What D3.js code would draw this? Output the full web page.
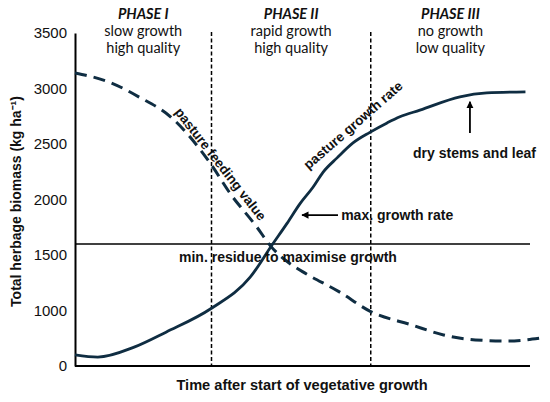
<!DOCTYPE html>
<html>
<head>
<meta charset="utf-8">
<script src="https://cdn.jsdelivr.net/npm/d3@7"></script>
<style>
	body { margin: 0; background: #fff; }
	svg { display: block; }
</style>
</head>
<body>
<svg id="chart" width="550" height="402"></svg>
<script>
// time after start (arbitrary units 0..100) and herbage biomass (kg/ha)
var growthTime = [0, 5, 13, 20, 30, 38.5, 43.3, 46.6, 49.5, 52.3, 54.5, 57.6, 61.1, 64.8, 68.6, 71.4, 75.8, 84.6, 90.5, 99];
var growthValue = [600, 580, 670, 805, 1020, 1300, 1590, 1785, 1965, 2110, 2245, 2375, 2510, 2605, 2690, 2745, 2805, 2925, 2960, 2970];

var feedingTime = [0, 8, 14, 21, 30, 34, 40, 43, 47, 50, 58, 65, 74, 81, 88, 95, 102];
var feedingValue = [3140, 3050, 2925, 2745, 2310, 2060, 1750, 1580, 1430, 1350, 1170, 990, 870, 780, 735, 725, 750];

// axis (the bottom label "0" sits where 500 would be)
var yTickValues = [500, 1000, 1500, 2000, 2500, 3000, 3500];
var yTickLabels = ["0", "1000", "1500", "2000", "2500", "3000", "3500"];

var phaseBounds = [0, 30, 65, 100];
var phaseNames = ["PHASE I", "PHASE II", "PHASE III"];
var phaseGrowth = ["slow growth", "rapid growth", "no growth"];
var phaseQuality = ["high quality", "high quality", "low quality"];

var minResidue = 1600;

var svg = d3.select("#chart");
var lineColor = "#0f2d42";

var x = d3.scaleLinear().domain([0, 100]).range([75, 530]);
var y = d3.scaleLinear().domain([500, 3500]).range([366, 33]);

// y axis
var yAxis = d3.axisLeft(y)
	.tickValues(yTickValues)
	.tickSize(0)
	.tickPadding(8)
	.tickFormat(function(d, i) {return yTickLabels[i];});

var gy = svg.append("g")
	.attr("transform", "translate(" + x(0) + ",0)")
	.call(yAxis);
gy.select(".domain").attr("stroke", "#000").attr("stroke-width", 2);
gy.selectAll("text")
	.attr("font-family", "Liberation Sans, Arial, sans-serif")
	.attr("font-size", 15)
	.attr("fill", "#111");

// x axis line (no ticks)
svg.append("line")
	.attr("x1", x(0)).attr("x2", x(100))
	.attr("y1", y(500)).attr("y2", y(500))
	.attr("stroke", "#000").attr("stroke-width", 2);

// min residue line
svg.append("line")
	.attr("x1", x(0)).attr("x2", x(100))
	.attr("y1", y(minResidue)).attr("y2", y(minResidue))
	.attr("stroke", "#000").attr("stroke-width", 1.5);

// phase boundaries
svg.selectAll(".phase-line")
	.data(phaseBounds.slice(1, 3))
	.enter()
	.append("line")
	.attr("class", "phase-line")
	.attr("x1", function(d) {return x(d);})
	.attr("x2", function(d) {return x(d);})
	.attr("y1", y(3510))
	.attr("y2", y(500))
	.attr("stroke", "#000")
	.attr("stroke-width", 1.5)
	.attr("stroke-dasharray", "4,2.5");

// phase headings
var phase = svg.selectAll(".phase")
	.data(phaseNames)
	.enter()
	.append("g")
	.attr("class", "phase")
	.attr("transform", function(d, i) {
		return "translate(" + x((phaseBounds[i] + phaseBounds[i + 1]) / 2) + ",0)";
	})
	.attr("font-family", "Lato, 'Open Sans', sans-serif")
	.attr("font-size", 14.5)
	.attr("text-anchor", "middle")
	.attr("fill", "#111");

phase.append("text")
	.attr("y", 19)
	.attr("font-weight", "bold")
	.attr("font-style", "italic")
	.text(function(d) {return d;});
phase.append("text")
	.attr("y", 36)
	.text(function(d, i) {return phaseGrowth[i];});
phase.append("text")
	.attr("y", 53)
	.text(function(d, i) {return phaseQuality[i];});

// curves
var line = d3.line()
	.x(function(d) {return x(d[0]);})
	.y(function(d) {return y(d[1]);})
	.curve(d3.curveMonotoneX);

svg.append("path")
	.datum(d3.zip(feedingTime, feedingValue))
	.attr("d", line)
	.attr("fill", "none")
	.attr("stroke", lineColor)
	.attr("stroke-width", 3)
	.attr("stroke-dasharray", "12,7");

svg.append("path")
	.datum(d3.zip(growthTime, growthValue))
	.attr("d", line)
	.attr("fill", "none")
	.attr("stroke", lineColor)
	.attr("stroke-width", 2.8);

// arrow head
svg.append("defs").append("marker")
	.attr("id", "arrow")
	.attr("viewBox", "0 0 10 10")
	.attr("refX", 9).attr("refY", 5)
	.attr("markerWidth", 4).attr("markerHeight", 4)
	.attr("orient", "auto")
	.append("path")
	.attr("d", "M0,0L10,5L0,10z")
	.attr("fill", "#000");

var boldText = function(sel) {
	return sel.attr("font-family", "Liberation Sans, Arial, sans-serif")
		.attr("font-weight", "bold")
		.attr("font-size", 14)
		.attr("fill", "#111");
};

// max growth rate
svg.append("line")
	.attr("x1", x(57.8)).attr("x2", x(49.9))
	.attr("y1", y(1860)).attr("y2", y(1860))
	.attr("stroke", "#000").attr("stroke-width", 1.8)
	.attr("marker-end", "url(#arrow)");
svg.append("text").call(boldText)
	.attr("x", x(58.5)).attr("y", y(1860))
	.attr("dy", "0.35em")
	.text("max. growth rate");

// dry stems and leaf
svg.append("line")
	.attr("x1", x(86.8)).attr("x2", x(86.8))
	.attr("y1", y(2600)).attr("y2", y(2880))
	.attr("stroke", "#000").attr("stroke-width", 1.8)
	.attr("marker-end", "url(#arrow)");
svg.append("text").call(boldText)
	.attr("x", x(87.8)).attr("y", y(2420))
	.attr("dy", "0.35em")
	.attr("text-anchor", "middle")
	.text("dry stems and leaf");

// min residue
svg.append("text").call(boldText)
	.attr("x", x(46.8)).attr("y", y(1480))
	.attr("dy", "0.35em")
	.attr("text-anchor", "middle")
	.text("min. residue to maximise growth");

// labels along curves
svg.append("text").call(boldText)
	.attr("font-size", 13.5)
	.attr("transform", "translate(" + x(32) + "," + y(2320) + ") rotate(52)")
	.attr("dy", "0.35em")
	.attr("text-anchor", "middle")
	.text("pasture feeding value");

svg.append("text").call(boldText)
	.attr("font-size", 13.5)
	.attr("transform", "translate(" + x(61.1) + "," + y(2670) + ") rotate(-41)")
	.attr("dy", "0.35em")
	.attr("text-anchor", "middle")
	.text("pasture growth rate");

// axis titles
svg.append("text").call(boldText)
	.attr("transform", "translate(16," + ((y(500) + y(3500)) / 2 + 2) + ") rotate(-90)")
	.attr("dy", "0.35em")
	.attr("text-anchor", "middle")
	.text("Total herbage biomass (kg ha\u207B\u00B9)");

svg.append("text").call(boldText)
	.attr("font-size", 14.6)
	.attr("x", 302).attr("y", 390)
	.attr("text-anchor", "middle")
	.text("Time after start of vegetative growth");
</script>
</body>
</html>
